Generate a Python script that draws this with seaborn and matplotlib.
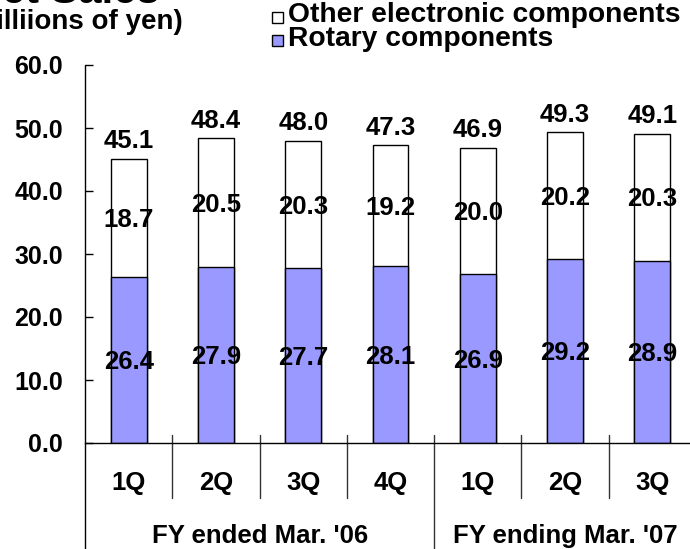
import matplotlib
matplotlib.use('Agg')
import matplotlib.pyplot as plt
import matplotlib.transforms as mtransforms
from matplotlib.patches import Rectangle
import seaborn as sns
import pandas as pd

# ---- data ----
periods = ["FY06 1Q", "FY06 2Q", "FY06 3Q", "FY06 4Q", "FY07 1Q", "FY07 2Q", "FY07 3Q"]
quarter_labels = ["1Q", "2Q", "3Q", "4Q", "1Q", "2Q", "3Q"]
rotary = [26.4, 27.9, 27.7, 28.1, 26.9, 29.2, 28.9]
other = [18.7, 20.5, 20.3, 19.2, 20.0, 20.2, 20.3]
totals = [45.1, 48.4, 48.0, 47.3, 46.9, 49.3, 49.1]
fiscal_years = ["FY ended Mar. '06", "FY ending Mar. '07"]
fy_members = [[0, 1, 2, 3], [4, 5, 6]]
yticks = [0, 10, 20, 30, 40, 50, 60]
series_names = ["Other electronic components", "Rotary components"]
title = "Net Sales"
unit = "(Billiions of yen)"

PURPLE = "#9999FF"

sns.set_theme(style="white")
plt.rcParams['font.family'] = ['Liberation Sans', 'DejaVu Sans']
plt.rcParams['font.weight'] = 'bold'

W, H = 690, 549
fig = plt.figure(figsize=(W / 100, H / 100), dpi=100)
ax = fig.add_axes([85 / W, 106 / H, 611 / W, 378 / H])

df = pd.DataFrame({"period": periods, "rotary": rotary, "other": other, "total": totals})

sns.barplot(data=df, x="period", y="total", order=periods, color="white",
            edgecolor="black", linewidth=1.0, width=0.41, saturation=1,
            errorbar=None, ax=ax)
sns.barplot(data=df, x="period", y="rotary", order=periods, color=PURPLE,
            edgecolor="black", linewidth=1.0, width=0.41, saturation=1,
            errorbar=None, ax=ax)

ax.set_xlim(-0.5, 6.5)
ax.set_ylim(0, 60)
ax.set_xticks([])
ax.set_xlabel("")
ax.set_ylabel("")
ax.set_yticks(yticks)
ax.set_yticklabels([f"{v:.1f}" for v in yticks], fontsize=18, fontweight="bold")
ax.tick_params(axis="y", left=True, direction="in", length=6, width=1,
               pad=16, color="black", labelcolor="black")
for s in ["top", "right", "left"]:
    ax.spines[s].set_visible(False)
ax.spines["bottom"].set_color("black")
ax.spines["bottom"].set_linewidth(1.0)

# left axis line extending down through category area
ax.plot([0, 0], [1, -0.2804], transform=ax.transAxes, color="black", lw=1.0,
        clip_on=False)

trans = mtransforms.blended_transform_factory(ax.transData, ax.transAxes)
for i in range(len(periods) - 1):
    x = i + 0.5
    bottom = -0.2804 if i == 3 else -0.1455
    ax.plot([x, x], [0.0212, bottom], transform=trans, color="#333333", lw=1.0,
            clip_on=False)

fs_cat = 18.5
for i, lbl in enumerate(quarter_labels):
    ax.text(i, -0.1058, lbl, transform=trans, ha="center", va="center",
            fontsize=fs_cat, fontweight="bold", color="black")

for name, members in zip(fiscal_years, fy_members):
    xc = (members[0] + members[-1]) / 2
    ax.text(xc, -0.246, name, transform=trans, ha="center", va="center",
            fontsize=fs_cat, fontweight="bold", color="black")

# value labels
fs_val = 18.5
for i in range(len(periods)):
    ax.annotate(f"{totals[i]:.1f}", xy=(i, totals[i]), xytext=(0, 7.5),
                textcoords="offset points", ha="center", va="baseline",
                fontsize=fs_val, fontweight="bold", color="black")
    ax.annotate(f"{other[i]:.1f}", xy=(i, rotary[i] + other[i] / 2),
                xytext=(0, -0.36 * fs_val), textcoords="offset points",
                ha="center", va="baseline", fontsize=fs_val, fontweight="bold",
                color="black")
    ax.annotate(f"{rotary[i]:.1f}", xy=(i, rotary[i] / 2),
                xytext=(0, -0.36 * fs_val), textcoords="offset points",
                ha="center", va="baseline", fontsize=fs_val, fontweight="bold",
                color="black")

# legend (manual)
def fx(px):
    return px / W

def fy(py):
    return 1 - py / H

for (top, fc), name, base in zip([(12, "white"), (35, PURPLE)], series_names, [22, 46]):
    fig.patches.append(Rectangle((fx(272), fy(top + 11)), 11 / W, 11 / H,
                                 facecolor=fc, edgecolor="black", lw=1.0,
                                 transform=fig.transFigure, figure=fig))
    fig.text(fx(288), fy(base), name, ha="left", va="baseline", fontsize=20.3,
             fontweight="bold", color="black")

fig.text(fx(160), fy(3), title, ha="right", va="baseline", fontsize=30,
         fontweight="bold", color="black")
fig.text(fx(183), fy(29), unit, ha="right", va="baseline", fontsize=20,
         fontweight="bold", color="black")

fig.savefig("out.png", dpi=100)
